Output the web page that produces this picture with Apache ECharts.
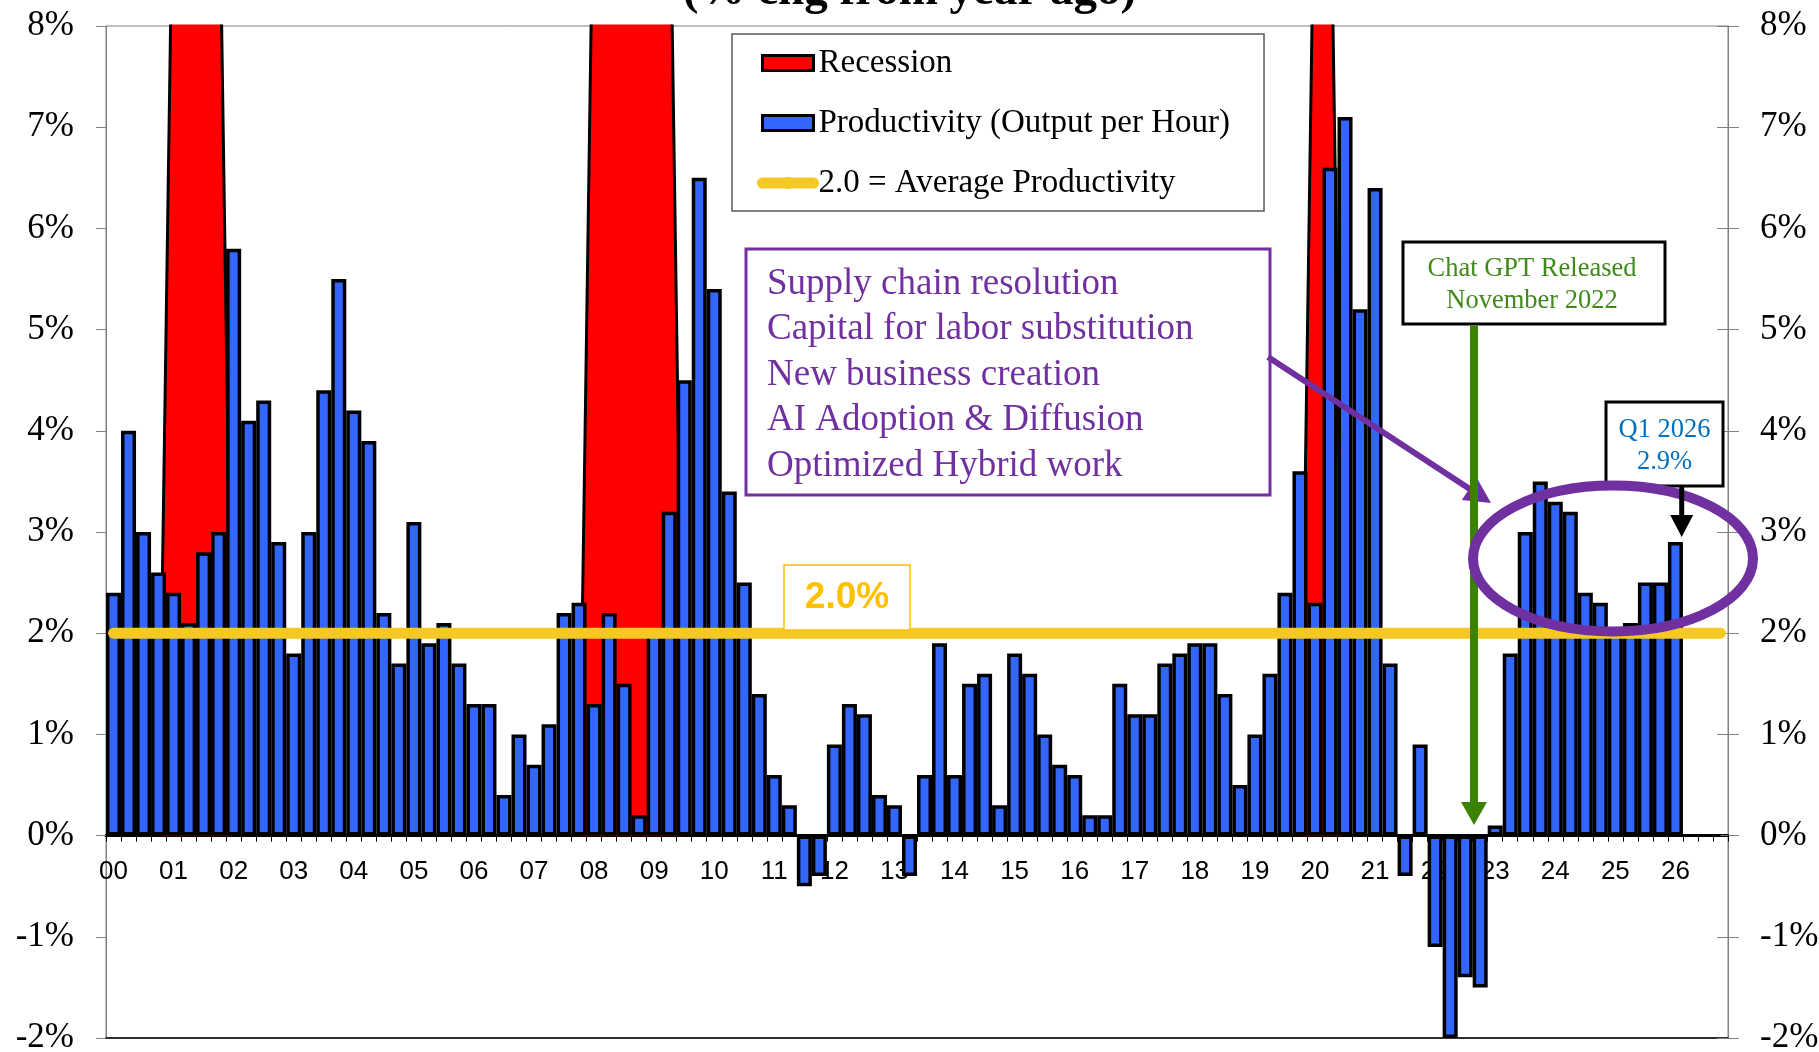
<!DOCTYPE html>
<html>
<head>
<meta charset="utf-8">
<title>Productivity (% chg from year ago)</title>
<script src="https://cdn.jsdelivr.net/npm/echarts@6/dist/echarts.min.js"></script>
<style>
  html, body { margin: 0; padding: 0; background: #fff; }
  #chart { width: 1819px; height: 1052px; }
</style>
</head>
<body>
<div id="chart"></div>
<script>
// quarters 2000Q1 .. 2026Q4 on the x axis
const firstYear = 2000;
const lastYear = 2026;
const quarterNames = ["Q1", "Q2", "Q3", "Q4"];

// productivity, % chg from year ago, 2000Q1 .. 2026Q1
const productivity = [
  2.4, 4.0, 3.0, 2.6,   // 2000
  2.4, 2.1, 2.8, 3.0,   // 2001
  5.8, 4.1, 4.3, 2.9,   // 2002
  1.8, 3.0, 4.4, 5.5,   // 2003
  4.2, 3.9, 2.2, 1.7,   // 2004
  3.1, 1.9, 2.1, 1.7,   // 2005
  1.3, 1.3, 0.4, 1.0,   // 2006
  0.7, 1.1, 2.2, 2.3,   // 2007
  1.3, 2.2, 1.5, 0.2,   // 2008
  2.0, 3.2, 4.5, 6.5,   // 2009
  5.4, 3.4, 2.5, 1.4,   // 2010
  0.6, 0.3, -0.5, -0.4, // 2011
  0.9, 1.3, 1.2, 0.4,   // 2012
  0.3, -0.4, 0.6, 1.9,  // 2013
  0.6, 1.5, 1.6, 0.3,   // 2014
  1.8, 1.6, 1.0, 0.7,   // 2015
  0.6, 0.2, 0.2, 1.5,   // 2016
  1.2, 1.2, 1.7, 1.8,   // 2017
  1.9, 1.9, 1.4, 0.5,   // 2018
  1.0, 1.6, 2.4, 3.6,   // 2019
  2.3, 6.6, 7.1, 5.2,   // 2020
  6.4, 1.7, -0.4, 0.9,  // 2021
  -1.1, -2.0, -1.4, -1.5, // 2022
  0.1, 1.8, 3.0, 3.5,   // 2023
  3.3, 3.2, 2.4, 2.3,   // 2024
  2.0, 2.1, 2.5, 2.5,   // 2025
  2.9                   // 2026
];

// recession quarters, drawn as a tall area that runs off the top
const recessionQuarters = [
  "2001Q1", "2001Q2", "2001Q3", "2001Q4",
  "2008Q1", "2008Q2", "2008Q3", "2008Q4", "2009Q1", "2009Q2",
  "2020Q1", "2020Q2"
];
const recessionHeight = 10;

const avgProductivity = 2.0;

const yTicks = [-2, -1, 0, 1, 2, 3, 4, 5, 6, 7, 8];

const drivers = [
  "Supply chain resolution",
  "Capital for labor substitution",
  "New business creation",
  "AI Adoption & Diffusion",
  "Optimized Hybrid work"
];

const serif = '"Liberation Serif", "Times New Roman", serif';
const sans = '"Liberation Sans", Arial, sans-serif';

const gridTop = 26, gridBottom = 14, chartHeight = 1052;

let categories = [];
for (let y = firstYear; y <= lastYear; y++) {
  quarterNames.forEach(q => categories.push(y + q));
}
const recessionData = categories.map(c => recessionQuarters.includes(c) ? recessionHeight : 0);
const avgData = [[0, avgProductivity], [categories.length - 1, avgProductivity]];

const yMin = yTicks[0], yMax = yTicks[yTicks.length - 1];
// lift the labelled category axis from the bottom edge up to the 0% line
const zeroOffset = -(chartHeight - gridTop - gridBottom) * (0 - yMin) / (yMax - yMin);

// straight arrow: shaft + triangular head
function arrow(x1, y1, x2, y2, width, headLen, headWidth, color) {
  const dx = x2 - x1, dy = y2 - y1;
  const len = Math.sqrt(dx * dx + dy * dy);
  const ux = dx / len, uy = dy / len;
  const bx = x2 - ux * headLen, by = y2 - uy * headLen;
  return [
    {
      type: "line", z: 100,
      shape: { x1: x1, y1: y1, x2: bx + ux * 2, y2: by + uy * 2 },
      style: { stroke: color, lineWidth: width }
    },
    {
      type: "polygon", z: 100,
      shape: { points: [[x2, y2], [bx - uy * headWidth / 2, by + ux * headWidth / 2], [bx + uy * headWidth / 2, by - ux * headWidth / 2]] },
      style: { fill: color }
    }
  ];
}

const chart = echarts.init(document.getElementById("chart"));

const yAxisBase = {
  type: "value",
  min: yMin,
  max: yMax,
  interval: 1,
  splitLine: { show: false }
};

chart.setOption({
  animation: false,
  backgroundColor: "#fff",
  title: {
    text: "(% chg from year ago)",
    left: "center",
    top: -32,
    padding: 0,
    textStyle: { fontFamily: serif, fontWeight: "bold", fontSize: 47, color: "#000" }
  },
  grid: {
    left: 106,
    right: 91,
    top: gridTop,
    bottom: gridBottom,
    containLabel: false,
    outerBoundsMode: "none",
    show: true,
    borderColor: "#808080",
    borderWidth: 1
  },
  legend: {
    orient: "vertical",
    left: 732,
    top: 34,
    padding: [12, 34, 11, 25],
    itemWidth: 51,
    itemHeight: 15,
    itemGap: 26,
    selectedMode: false,
    backgroundColor: "#fff",
    borderColor: "#595959",
    borderWidth: 1.5,
    textStyle: { fontFamily: serif, fontSize: 33, color: "#000", lineHeight: 34 },
    data: [
      { name: "Recession", icon: "rect", itemStyle: { color: "#FF0000", borderColor: "#000", borderWidth: 3 } },
      { name: "Productivity (Output per Hour)", icon: "rect", itemStyle: { color: "#3366FF", borderColor: "#000", borderWidth: 3 } },
      { name: "2.0 = Average Productivity", itemStyle: { color: "#F5C823", borderWidth: 0 }, lineStyle: { color: "#F5C823", width: 11, cap: "round" } }
    ]
  },
  xAxis: [
    {
      type: "category",
      data: categories,
      boundaryGap: true,
      position: "bottom",
      offset: zeroOffset,
      axisLine: { onZero: false, lineStyle: { color: "#000", width: 3 } },
      axisTick: { show: true, interval: 0, length: 6, lineStyle: { color: "#000", width: 1 } },
      axisLabel: {
        interval: 3,
        formatter: v => v.slice(2, 4),
        fontFamily: sans,
        fontSize: 26,
        color: "#000",
        margin: 23
      },
      splitLine: { show: false }
    },
    {
      // bottom frame line at -2%
      type: "category",
      data: categories,
      position: "bottom",
      axisLine: { onZero: false, lineStyle: { color: "#000", width: 1.5 } },
      axisTick: { show: false },
      axisLabel: { show: false },
      splitLine: { show: false }
    }
  ],
  yAxis: [
    Object.assign({}, yAxisBase, {
      position: "left",
      axisLine: { show: true, onZero: false, lineStyle: { color: "#808080", width: 1 } },
      axisTick: { show: true, length: 10, lineStyle: { color: "#808080" } },
      axisLabel: { formatter: "{value}%", fontFamily: serif, fontSize: 35, color: "#000", margin: 32 }
    }),
    Object.assign({}, yAxisBase, {
      position: "right",
      axisLine: { show: true, onZero: false, lineStyle: { color: "#808080", width: 1 } },
      axisTick: { show: true, length: 11, lineStyle: { color: "#808080" } },
      axisLabel: { formatter: "{value}%", fontFamily: serif, fontSize: 35, color: "#000", margin: 32 }
    }),
    Object.assign({}, yAxisBase, {
      // inner half of the crossing ticks on the right
      position: "right",
      axisLine: { show: false, onZero: false },
      axisTick: { show: true, inside: true, length: 11, lineStyle: { color: "#808080" } },
      axisLabel: { show: false }
    })
  ],
  series: [
    {
      name: "Recession",
      type: "line",
      z: 1,
      data: recessionData,
      symbol: "none",
      lineStyle: { color: "#000", width: 3 },
      itemStyle: { color: "#FF0000" },
      areaStyle: { color: "#FF0000", opacity: 1 }
    },
    {
      name: "Productivity (Output per Hour)",
      type: "bar",
      z: 2,
      data: productivity,
      barCategoryGap: "0%",
      itemStyle: { color: "#3366FF", borderColor: "#000", borderWidth: 3.5 }
    },
    {
      name: "2.0 = Average Productivity",
      type: "line",
      z: 3,
      data: avgData,
      symbol: "none",
      itemStyle: { color: "#F5C823" },
      lineStyle: { color: "#F5C823", width: 11, cap: "round" }
    }
  ],
  graphic: [
    // 2.0% tag
    { type: "rect", z: 100, shape: { x: 784, y: 565, width: 126, height: 65 }, style: { fill: "#fff", stroke: "#FFC000", lineWidth: 1.5 } },
    { type: "text", z: 101, x: 847, y: 598, style: { text: "2.0%", fontFamily: sans, fontWeight: "bold", fontSize: 37, fill: "#FFC000", align: "center", verticalAlign: "middle" } },
    // drivers box
    { type: "rect", z: 100, shape: { x: 746, y: 249, width: 524, height: 246 }, style: { fill: "#fff", stroke: "#7030A0", lineWidth: 3 } },
    { type: "text", z: 101, x: 767, y: 261, style: { text: drivers.join("\n"), fontFamily: serif, fontSize: 37, lineHeight: 45.6, fill: "#7030A0", align: "left", verticalAlign: "top" } }
  ]
    .concat(arrow(1268, 357, 1491, 503, 6, 26, 27, "#7030A0"))
    .concat([
      // Chat GPT box
      { type: "rect", z: 100, shape: { x: 1403, y: 242, width: 262, height: 82 }, style: { fill: "#fff", stroke: "#000", lineWidth: 3 } },
      { type: "text", z: 101, x: 1532, y: 285, style: { text: "Chat GPT Released\nNovember 2022", fontFamily: serif, fontSize: 26.5, lineHeight: 31.7, fill: "#3F8A1A", align: "center", verticalAlign: "middle" } }
    ])
    .concat(arrow(1474, 325.5, 1474, 825, 8, 23, 26, "#3A8200"))
    .concat([
      { type: "ellipse", z: 100, shape: { cx: 1613, cy: 558.5, rx: 140, ry: 73 }, style: { fill: "transparent", stroke: "#7030A0", lineWidth: 10 } },
      // Q1 2026 tag
      { type: "rect", z: 99, shape: { x: 1606, y: 402, width: 117, height: 84 }, style: { fill: "#fff", stroke: "#000", lineWidth: 3 } },
      { type: "text", z: 99, x: 1664.5, y: 446, style: { text: "Q1 2026\n2.9%", fontFamily: serif, fontSize: 26.5, lineHeight: 31.7, fill: "#0070C0", align: "center", verticalAlign: "middle" } }
    ])
    .concat(arrow(1681.7, 487, 1681.7, 537, 5, 22, 23, "#000"))
});
</script>
</body>
</html>
